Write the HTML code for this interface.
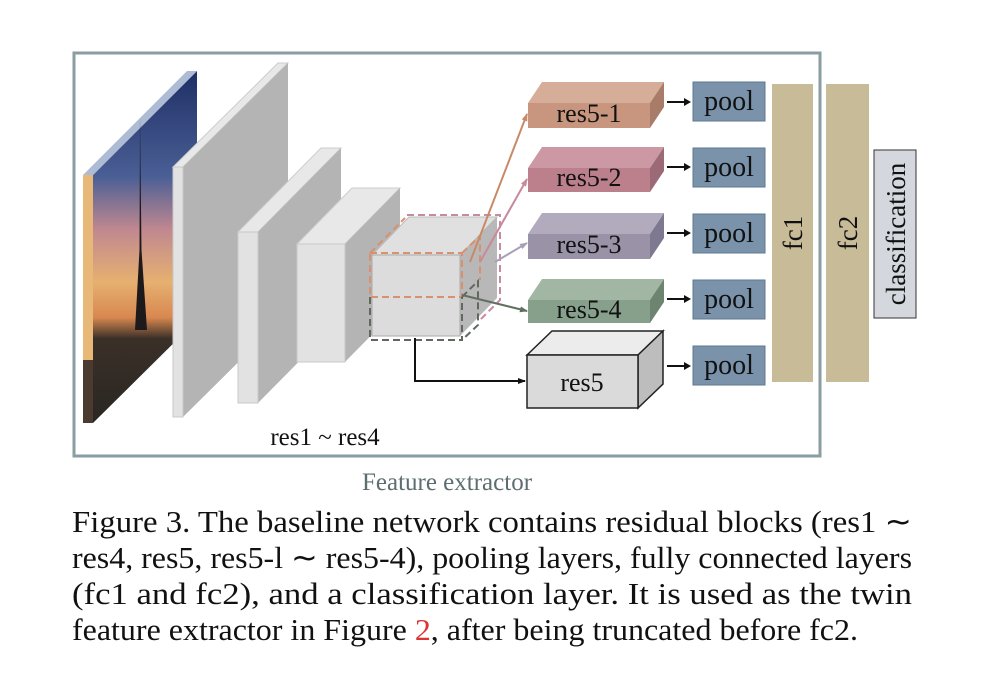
<!DOCTYPE html>
<html><head><meta charset="utf-8"><style>
html,body{margin:0;padding:0;background:#fff;}
body{width:984px;height:696px;position:relative;overflow:hidden;font-family:"Liberation Serif",serif;}
</style></head><body>
<svg width="984" height="696" style="position:absolute;left:0;top:0" font-family="Liberation Serif, serif">
<defs>
<linearGradient id="sky" x1="0" y1="0" x2="0" y2="1">
<stop offset="0" stop-color="#1f2f66"/>
<stop offset="0.3" stop-color="#4a5f95"/>
<stop offset="0.45" stop-color="#c08890"/>
<stop offset="0.6" stop-color="#e6b070"/>
<stop offset="0.7" stop-color="#d88850"/>
<stop offset="0.76" stop-color="#3a3028"/>
<stop offset="1" stop-color="#2a2622"/>
</linearGradient>
<marker id="ah" markerWidth="8" markerHeight="8" refX="7" refY="4" orient="auto" markerUnits="userSpaceOnUse"><path d="M0,1 L8,4 L0,7z" fill="context-stroke"/></marker>
<marker id="ak" markerWidth="8" markerHeight="8" refX="7" refY="4" orient="auto" markerUnits="userSpaceOnUse"><path d="M0,1 L8,4 L0,7z" fill="#111"/></marker>
</defs>
<rect x="74" y="53" width="746" height="403" fill="none" stroke="#8a9ea2" stroke-width="3"/>
<polygon points="93,175 197,71 197,320 93,423" fill="url(#sky)"/>
<polygon points="83,175 93,175 197,71 187,71" fill="#9aaacb" opacity="0.8"/>
<polygon points="83,175 93,175 93,423 83,423" fill="#e8b878"/>
<polygon points="83,360 93,360 93,423 83,423" fill="#4a3a30"/>
<path d="M140,117 L139.5,250 L135,330 L147,330 L141.5,250 Z" fill="#1e1a1c"/>
<polygon points="173,167 183,167 288,63 278,63" fill="#e8e8e8" stroke="#ccc"/>
<polygon points="183,167 288,63 288,313 183,417" fill="#b4b4b4"/>
<rect x="173" y="167" width="10" height="250" fill="#e2e2e2" stroke="#c8c8c8"/>
<polygon points="238,232 258,232 341,148 321,148" fill="#e8e8e8" stroke="#ccc"/>
<polygon points="258,232 341,148 341,319 258,403" fill="#b4b4b4"/>
<rect x="238" y="232" width="20" height="171" fill="#e2e2e2" stroke="#c8c8c8"/>
<polygon points="297,244 345,244 400,188 352,188" fill="#e8e8e8" stroke="#ccc"/>
<polygon points="345,244 400,188 400,306 345,362" fill="#b4b4b4"/>
<rect x="297" y="244" width="48" height="118" fill="#e2e2e2" stroke="#c8c8c8"/>
<polygon points="372,255 460,255 497,217 409,217" fill="#e0e0e0" stroke="#bbb"/>
<polygon points="460,255 497,217 497,298 460,336" fill="#b8b8b8"/>
<rect x="372" y="255" width="88" height="81" fill="#dcdcdc" stroke="#aaa"/>
<g fill="none" stroke-width="2" stroke-dasharray="7,4">
<path d="M407,215 L500,215 L500,300 L480,320" stroke="#c88aa0"/>
<path d="M370,253 L405,218 M462,253 L480,236 L480,280" stroke="#d8906e"/>
<rect x="370" y="253" width="92" height="44" stroke="#d8906e"/>
<path d="M370,297 L370,340 L462,340 L462,297 M462,297 L478,281 L478,325 L462,340" stroke="#606860"/>
</g>
<line x1="470" y1="262" x2="527" y2="114" stroke="#c88a66" stroke-width="2" marker-end="url(#ah)"/>
<line x1="480" y1="262" x2="527" y2="179" stroke="#c88a9a" stroke-width="2" marker-end="url(#ah)"/>
<line x1="495" y1="262" x2="527" y2="243" stroke="#a8a0b8" stroke-width="2" marker-end="url(#ah)"/>
<line x1="462" y1="295" x2="527" y2="311" stroke="#607060" stroke-width="2" marker-end="url(#ah)"/>
<path d="M415,338 L415,381 L525,381" fill="none" stroke="#111" stroke-width="2" marker-end="url(#ak)"/>
<g font-size="26" text-anchor="middle" fill="#111">
<polygon points="528,103 542,82 664,82 650,103" fill="#d6ad98"/><polygon points="650,103 664,82 664,107 650,128" fill="#a87c68"/><rect x="528" y="103" width="122" height="25" fill="#c8967e"/><text x="589" y="122">res5-1</text>
<polygon points="528,168 542,147 664,147 650,168" fill="#cc98a4"/><polygon points="650,168 664,147 664,171 650,192" fill="#9c6a76"/><rect x="528" y="168" width="122" height="24" fill="#bc7f8c"/><text x="589" y="186">res5-2</text>
<polygon points="528,234 542,213 664,213 650,234" fill="#b2abbe"/><polygon points="650,234 664,213 664,238 650,259" fill="#7e7890"/><rect x="528" y="234" width="122" height="25" fill="#9a93a8"/><text x="589" y="253">res5-3</text>
<polygon points="528,300 542,279 664,279 650,300" fill="#a2b6a4"/><polygon points="650,300 664,279 664,302 650,323" fill="#6c8470"/><rect x="528" y="300" width="122" height="23" fill="#87a08b"/><text x="589" y="318">res5-4</text>
<polygon points="527,355 552,331 663,331 638,355" fill="#ececec" stroke="#222" stroke-width="1.5"/><polygon points="638,355 663,331 663,384 638,408" fill="#bdbdbd" stroke="#222" stroke-width="1.5"/><rect x="527" y="355" width="111" height="53" fill="#dadada" stroke="#222" stroke-width="1.5"/><text x="582" y="391">res5</text>
</g>
<g font-size="28" text-anchor="middle" fill="#111">
<g stroke="#111" stroke-width="2"><line x1="667" y1="102" x2="684" y2="102"/><line x1="667" y1="167" x2="684" y2="167"/><line x1="667" y1="233" x2="684" y2="233"/><line x1="667" y1="299" x2="684" y2="299"/><line x1="667" y1="366" x2="684" y2="366"/></g>
<g fill="#111"><path d="M684,98 L691,102 L684,106z"/><path d="M684,163 L691,167 L684,171z"/><path d="M684,229 L691,233 L684,237z"/><path d="M684,295 L691,299 L684,303z"/><path d="M684,362 L691,366 L684,370z"/></g>
<g fill="#7a93ab" stroke="#5f7890"><rect x="693" y="82" width="72" height="39"/><rect x="693" y="148" width="72" height="39"/><rect x="693" y="214" width="72" height="39"/><rect x="693" y="280" width="72" height="39"/><rect x="693" y="346" width="72" height="39"/></g>
<text x="729" y="110">pool</text><text x="729" y="176">pool</text><text x="729" y="242">pool</text><text x="729" y="308">pool</text><text x="729" y="374">pool</text>
</g>
<rect x="772" y="84" width="41" height="298" fill="#c8bb98"/>
<rect x="826" y="84" width="43" height="298" fill="#c8bb98"/>
<rect x="874" y="150" width="42" height="168" fill="#d4d8de" stroke="#333" stroke-width="1"/>
<g font-size="27" fill="#111" text-anchor="middle">
<text transform="translate(802,233) rotate(-90)">fc1</text>
<text transform="translate(857,233) rotate(-90)">fc2</text>
<text transform="translate(905,234) rotate(-90)">classification</text>
</g>
<text x="325" y="445" font-size="25" text-anchor="middle" fill="#111">res1 ~ res4</text>
<text x="447" y="490" font-size="25" text-anchor="middle" fill="#5e6e70">Feature extractor</text>
<g font-size="31" fill="#111">
<text x="72" y="532" textLength="840" lengthAdjust="spacingAndGlyphs">Figure 3.  The baseline network contains residual blocks (res1 ∼</text>
<text x="72" y="568" textLength="840" lengthAdjust="spacingAndGlyphs">res4, res5, res5-l ∼ res5-4), pooling layers, fully connected layers</text>
<text x="72" y="604" textLength="840" lengthAdjust="spacingAndGlyphs">(fc1 and fc2), and a classification layer.  It is used as the twin</text>
<text x="72" y="640" textLength="786" lengthAdjust="spacingAndGlyphs">feature extractor in Figure <tspan fill="#d33">2</tspan>, after being truncated before fc2.</text>
</g>
</svg>
</body></html>
